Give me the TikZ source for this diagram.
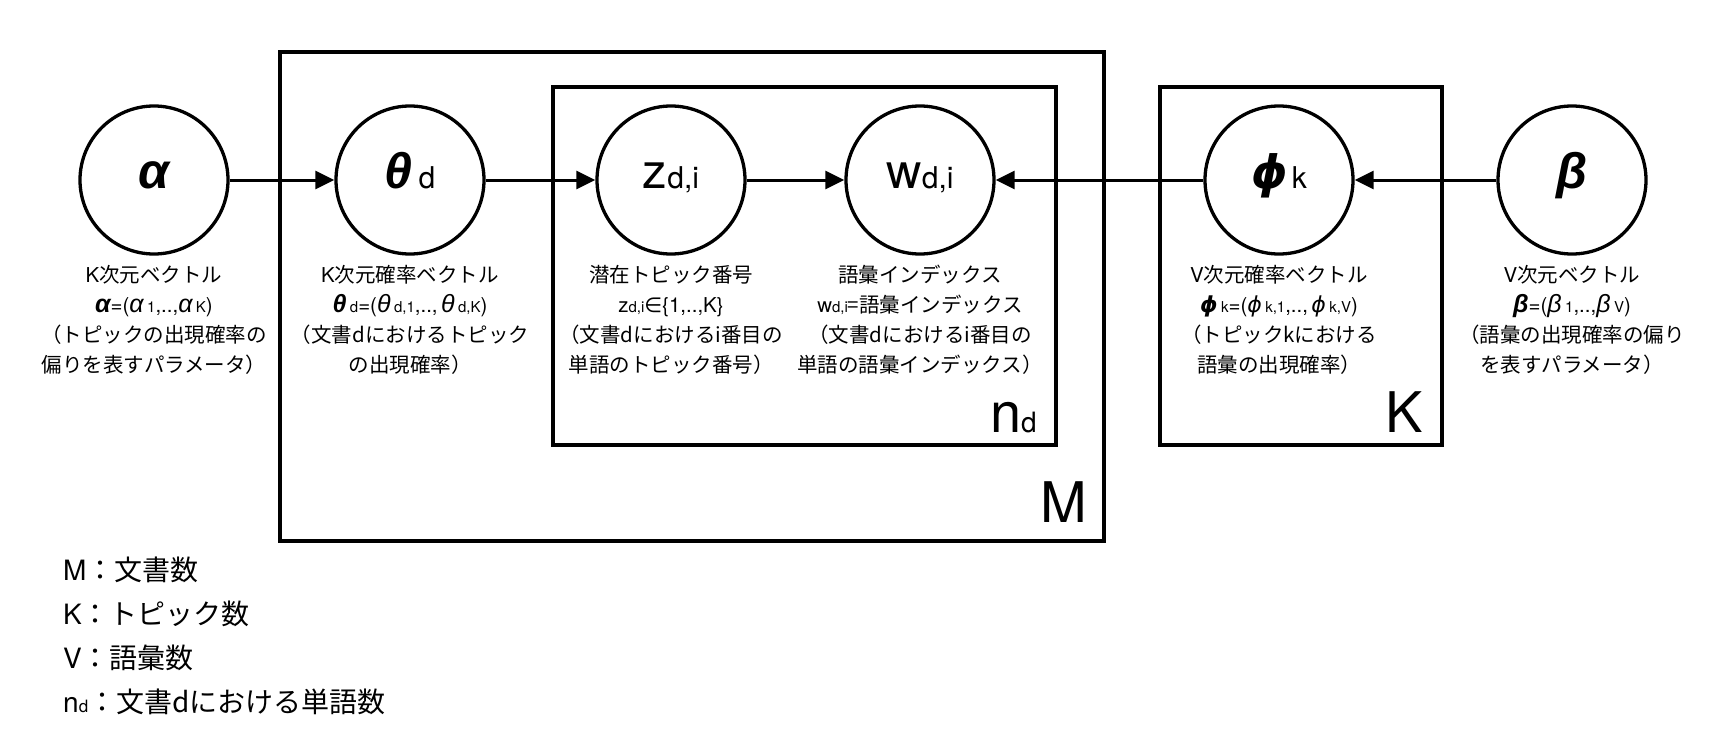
\documentclass[tikz,border=0pt]{standalone}
\usepackage{fontspec}
\setmainfont{Noto Sans CJK JP}
\newfontfamily\hv{TeX Gyre Heros}
\newfontfamily\gk{Liberation Sans}
\newfontfamily\dv{DejaVu Sans}
\usepackage{tikz}
\usetikzlibrary{arrows.meta,positioning}

% greek in the labels, and small indices
\newcommand{\bgk}[1]{{\gk\bfseries\itshape\fontsize{25}{30}\selectfont #1}}
\newcommand{\igk}[1]{{\gk\itshape\fontsize{25}{30}\selectfont #1}}
\newcommand{\bphi}{{\dv\bfseries\itshape\fontsize{22}{30}\selectfont ϕ}}
\newcommand{\iphi}{{\dv\itshape\fontsize{22}{30}\selectfont ϕ}}
\newcommand{\lsub}[1]{{\hv\fontsize{15}{15}\selectfont #1}}
% text inside the circles
\newcommand{\vgr}[1]{{\gk\bfseries\itshape\fontsize{50}{50}\selectfont #1}}
\newcommand{\vlat}[1]{{\hv\fontsize{49}{49}\selectfont #1}}
\newcommand{\vsub}[1]{{\hv\fontsize{30}{30}\selectfont #1}}

\begin{document}
\begin{tikzpicture}[
  x=1pt, y=-1pt,
  var/.style={circle, draw, line width=3.3pt, minimum size=148pt, inner sep=0pt,
              text height=20pt, text depth=4pt},
  lbl/.style={align=center, inner sep=0pt, font=\fontsize{20.5}{30}\selectfont},
  plate/.style={line width=3.4pt},
  platelbl/.style={anchor=base east, inner sep=0pt, font=\hv\fontsize{56}{56}\selectfont},
  legend/.style={anchor=base west, inner sep=0pt, font=\fontsize{28}{28}\selectfont},
  arr/.style={line width=3pt, -{Triangle[length=19pt,width=18pt]}},
]
\useasboundingbox (0,0) rectangle (1716,750);

% plates
\draw[plate] (280,52) rectangle (1104,541);
\draw[plate] (553,87) rectangle (1056,445);
\draw[plate] (1160,87) rectangle (1442,445);
\node[platelbl] (Mlbl)  at (1087,522) {M};
\node[platelbl] (ndlbl) at (1037,432) {n{\fontsize{28}{28}\selectfont d}};
\node[platelbl] (Klbl)  at (1423,432) {K};

% variables
\node[var] (alpha) at (154,180)  {\vgr{α}};
\node[var] (theta) at (410,180)  {\vgr{θ}\hspace{6pt}\vsub{d}};
\node[var] (z)     at (671,180)  {\vlat{z}\vsub{d,i}};
\node[var] (w)     at (920,180)  {\vlat{w}\vsub{d,i}};
\node[var] (phi)   at (1279,180) {{\dv\bfseries\itshape\fontsize{46}{46}\selectfont ϕ}\hspace{4pt}\vsub{k}};
\node[var] (beta)  at (1572,180) {\vgr{β}};

\draw[arr] (alpha) -- (theta);
\draw[arr] (theta) -- (z);
\draw[arr] (z) -- (w);
\draw[arr] (phi) -- (w);
\draw[arr] (beta) -- (phi);

% descriptions
\node[lbl, below=9pt of alpha] (alphalbl) {{\hv K}次元ベクトル\\
  {\hv\bgk{α}=(\igk{α}\,\lsub{1},..,\igk{α}\,\lsub{K})}\\
  （トピックの出現確率の\\
  偏りを表すパラメータ）};
\node[lbl, below=9pt of theta] (thetalbl) {{\hv K}次元確率ベクトル\\
  {\hv\bgk{θ}\,\lsub{d}=(\igk{θ}\,\lsub{d,1},..,\,\igk{θ}\,\lsub{d,K})}\\
  （文書dにおけるトピック\\
  の出現確率）};
\node[lbl, below=9pt of z] (zlbl) {潜在トピック番号\\
  {\hv z\lsub{d,i}{\dv ∈}\{1,..,K\}}\\
  （文書dにおけるi番目の\\
  単語のトピック番号）};
\node[lbl, below=9pt of w] (wlbl) {語彙インデックス\\
  {\hv w\lsub{d,i}}=語彙インデックス\\
  （文書dにおけるi番目の\\
  単語の語彙インデックス）};
\node[lbl, below=9pt of phi] (philbl) {{\hv V}次元確率ベクトル\\
  {\hv\bphi\,\lsub{k}=(\iphi\,\lsub{k,1},..,\,\iphi\,\lsub{k,V})}\\
  （トピックkにおける\\
  語彙の出現確率）};
\node[lbl, below=9pt of beta] (betalbl) {{\hv V}次元ベクトル\\
  {\hv\bgk{β}=(\igk{β}\,\lsub{1},..,\igk{β}\,\lsub{V})}\\
  （語彙の出現確率の偏り\\
  を表すパラメータ）};

% legend
\node[legend] (legM) at (63,580) {{\hv M}：文書数};
\node[legend] (legK) at (63,624) {{\hv K}：トピック数};
\node[legend] (legV) at (63,668) {{\hv V}：語彙数};
\node[legend] (legN) at (63,712) {{\hv n\fontsize{17}{17}\selectfont d}：文書dにおける単語数};
\end{tikzpicture}
\end{document}
